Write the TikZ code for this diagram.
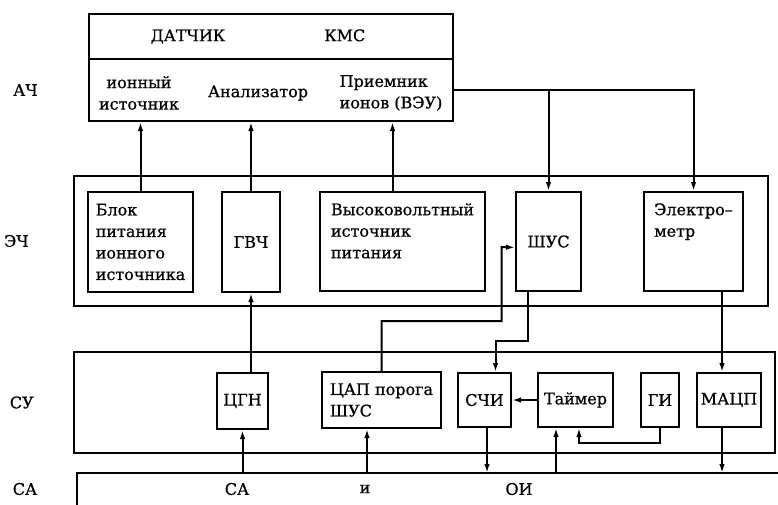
\documentclass[tikz,border=0pt]{standalone}
\usepackage{fontspec}
\setmainfont[RawFeature={embolden=0.7}]{DejaVu Serif}
\usetikzlibrary{arrows.meta,positioning}

\begin{document}
\begin{tikzpicture}[x=1pt,y=-1pt,line width=2pt,>={Latex[length=9pt,width=5.5pt]},
	font=\fontsize{16}{21.5}\selectfont,
	blk/.style={draw, rectangle, inner sep=0pt, align=left},
	frame/.style={draw, rectangle, inner sep=0pt},
	plain/.style={inner sep=0pt, align=center}]
	
	\useasboundingbox (0,0) rectangle (778,504);
	
	% АЧ
	\node (head) [blk, minimum width=364, minimum height=45] at (271,36.5) {ДАТЧИК\hspace{99pt}КМС\hspace{26pt}};
	\node (sensor) [frame, minimum width=364, minimum height=62] at (271,90) {};
	\node (ionsrc) [plain] at (139,93) {ионный\\источник};
	\node (analyzer) [plain] at (258,93) {Анализатор};
	\node (receiver) [plain, align=left] at (391,93) {Приемник\\ионов (ВЭУ)};
	
	% ЭЧ
	\node (ech) [frame, minimum width=694, minimum height=130] at (421,241) {};
	\node (bpi) [blk, minimum width=105, minimum height=100] at (140.5,242) {Блок\\питания\\ионного\\источника};
	\node (gvch) [blk, minimum width=58, minimum height=100] at (251,242) {ГВЧ};
	\node (hv) [blk, minimum width=165, minimum height=99] at (402.5,241.5) {Высоковольтный\\источник\\питания\\~};
	\node (shus) [blk, minimum width=65, minimum height=99] at (548.5,241.5) {ШУС};
	\node (elmeter) [blk, minimum width=99, minimum height=99] at (693.5,241.5) {Электро--\\метр\\~\\~};
	
	% СУ
	\node (su) [frame, minimum width=701, minimum height=101] at (424.5,402.5) {};
	\node (cgn) [blk, minimum width=51, minimum height=56] at (242.5,401) {ЦГН};
	\node (cap) [blk, minimum width=119, minimum height=56] at (381.5,400) {ЦАП порога\\ШУС};
	\node (schi) [blk, minimum width=53, minimum height=54] at (484.5,400) {СЧИ};
	\node (timer) [blk, minimum width=75, minimum height=54] at (575.5,400) {Таймер};
	\node (gi) [blk, minimum width=38, minimum height=54] at (660,400) {ГИ};
	\node (macp) [blk, minimum width=64, minimum height=54] at (729,400) {МАЦП};
	
	% СА
	\coordinate (bus) at (77,473);
	\draw (bus) ++(0,32) -- (bus) -- ++(702,0);
	\node (tca) at (237,489) {СА};
	\node (tand) at (365,489) {и};
	\node (toi) at (519,489) {ОИ};
	
	% левые подписи
	\node (lach) [left=46pt of sensor.west] {АЧ};
	\node (lech) [left=40pt of ech.west] {ЭЧ};
	\node (lsu) [left=35pt of su.west] {СУ};
	\node (lca) at (25,489) {СА};
	
	\draw [->] (bpi.north) -- (bpi.north |- sensor.south);
	\draw [->] (gvch.north) -- (gvch.north |- sensor.south);
	\draw [->] ([xshift=-10pt]hv.north) -- ([xshift=-10pt]hv.north |- sensor.south);
	\draw [->] (sensor.east) -| (elmeter.north);
	\draw [->] (shus.north |- sensor.east) -- (shus.north);
	
	\draw [->] (cgn.north -| gvch.south) -- (gvch.south);
	\draw [->] (cap.north) -- ++(0,-50) -| ++(120,-74) -- ([yshift=-6pt]shus.west);
	\draw [->] ([xshift=-21pt]shus.south) -- ++(0,49) -| ([xshift=11pt]schi.north);
	\draw [->] ([xshift=28.5pt]elmeter.south) -- ([xshift=-7pt]macp.north);
	
	\draw [->] (timer.west) -- (schi.east);
	\draw [->] (gi.south) -- ++(0,15) -| ([xshift=3.5pt]timer.south);
	
	\draw [->] (cgn.south |- bus) -- (cgn.south);
	\draw [->] ([xshift=-14.5pt]cap.south |- bus) -- ([xshift=-14.5pt]cap.south);
	\draw [->] ([xshift=2.5pt]schi.south) -- ([xshift=2.5pt]schi.south |- bus);
	\draw [->] ([xshift=-19.5pt]timer.south |- bus) -- ([xshift=-19.5pt]timer.south);
	\draw [->] ([xshift=-7pt]macp.south) -- ([xshift=-7pt]macp.south |- bus);
	
\end{tikzpicture}
\end{document}
